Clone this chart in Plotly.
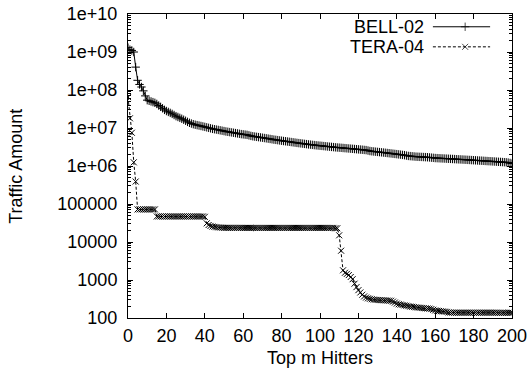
import plotly.graph_objects as go

# ---------------- data ----------------
m_hitters = list(range(0, 201))

bell_02 = [
    1.3e9, 1.15e9, 1.1e9, 1.0e9, 4.0e8, 1.8e8, 1.4e8, 1.2e8, 9.5e7, 7.0e7,
    5.4e7, 5.2e7, 5.0e7, 4.8e7, 4.6e7, 4.3e7, 3.9e7, 3.6e7, 3.3e7, 3.0e7,
    2.8e7, 2.65e7, 2.5e7, 2.35e7, 2.2e7, 2.05e7, 1.95e7, 1.85e7, 1.75e7, 1.65e7,
    1.55e7, 1.45e7, 1.37e7, 1.31e7, 1.26e7, 1.22e7, 1.19e7, 1.16e7, 1.13e7, 1.10e7,
    1.07e7, 1.04e7, 1.01e7, 9.8e6, 9.5e6, 9.3e6, 9.1e6, 8.9e6, 8.7e6, 8.5e6,
    8.3e6, 8.1e6, 7.95e6, 7.8e6, 7.65e6, 7.5e6, 7.35e6, 7.2e6, 7.05e6, 6.9e6,
    6.8e6, 6.7e6, 6.6e6, 6.4e6, 6.2e6, 6.05e6, 5.95e6, 5.85e6, 5.75e6, 5.65e6,
    5.55e6, 5.45e6, 5.35e6, 5.25e6, 5.15e6, 5.05e6, 4.95e6, 4.87e6, 4.79e6, 4.71e6,
    4.63e6, 4.55e6, 4.48e6, 4.41e6, 4.34e6, 4.27e6, 4.2e6, 4.13e6, 4.06e6, 4.0e6,
    3.94e6, 3.88e6, 3.82e6, 3.76e6, 3.7e6, 3.65e6, 3.6e6, 3.55e6, 3.5e6, 3.46e6,
    3.42e6, 3.38e6, 3.34e6, 3.3e6, 3.26e6, 3.22e6, 3.18e6, 3.14e6, 3.1e6, 3.07e6,
    3.04e6, 3.01e6, 2.98e6, 2.95e6, 2.92e6, 2.89e6, 2.86e6, 2.83e6, 2.8e6, 2.77e6,
    2.74e6, 2.71e6, 2.68e6, 2.65e6, 2.62e6, 2.55e6, 2.48e6, 2.44e6, 2.41e6, 2.38e6,
    2.35e6, 2.32e6, 2.29e6, 2.26e6, 2.23e6, 2.2e6, 2.17e6, 2.14e6, 2.11e6, 2.08e6,
    2.05e6, 2.02e6, 1.99e6, 1.96e6, 1.93e6, 1.88e6, 1.84e6, 1.82e6, 1.8e6, 1.78e6,
    1.76e6, 1.75e6, 1.74e6, 1.73e6, 1.72e6, 1.71e6, 1.70e6, 1.68e6, 1.66e6, 1.64e6,
    1.62e6, 1.61e6, 1.60e6, 1.59e6, 1.58e6, 1.57e6, 1.56e6, 1.55e6, 1.54e6, 1.53e6,
    1.52e6, 1.51e6, 1.50e6, 1.49e6, 1.48e6, 1.47e6, 1.46e6, 1.45e6, 1.44e6, 1.43e6,
    1.42e6, 1.41e6, 1.40e6, 1.39e6, 1.38e6, 1.37e6, 1.36e6, 1.35e6, 1.34e6, 1.33e6,
    1.32e6, 1.31e6, 1.30e6, 1.29e6, 1.28e6, 1.27e6, 1.26e6, 1.25e6, 1.23e6, 1.20e6,
    1.16e6,
]

tera_04 = [
    6.5e7, 1.8e7, 7.5e6, 1.25e6, 3.9e5, 7.2e4, 7.2e4, 7.2e4, 7.2e4, 7.2e4,
    7.2e4, 7.2e4, 7.2e4, 7.2e4, 7.2e4, 4.7e4, 4.7e4, 4.7e4, 4.7e4, 4.7e4,
    4.7e4, 4.7e4, 4.7e4, 4.7e4, 4.7e4, 4.7e4, 4.7e4, 4.7e4, 4.7e4, 4.7e4,
    4.7e4, 4.7e4, 4.7e4, 4.7e4, 4.7e4, 4.7e4, 4.7e4, 4.7e4, 4.7e4, 4.7e4,
    4.6e4, 3.1e4, 2.8e4, 2.65e4, 2.55e4, 2.5e4, 2.45e4, 2.42e4, 2.4e4, 2.38e4,
    2.36e4, 2.36e4, 2.36e4, 2.36e4, 2.36e4, 2.36e4, 2.36e4, 2.36e4, 2.36e4, 2.36e4,
    2.35e4, 2.35e4, 2.35e4, 2.35e4, 2.35e4, 2.35e4, 2.35e4, 2.35e4, 2.35e4, 2.35e4,
    2.35e4, 2.35e4, 2.35e4, 2.35e4, 2.35e4, 2.35e4, 2.35e4, 2.35e4, 2.35e4, 2.35e4,
    2.35e4, 2.35e4, 2.35e4, 2.35e4, 2.35e4, 2.35e4, 2.35e4, 2.35e4, 2.35e4, 2.35e4,
    2.35e4, 2.35e4, 2.35e4, 2.35e4, 2.35e4, 2.35e4, 2.35e4, 2.35e4, 2.35e4, 2.35e4,
    2.35e4, 2.35e4, 2.35e4, 2.35e4, 2.35e4, 2.35e4, 2.35e4, 2.35e4, 2.3e4, 2.3e4,
    1.5e4, 5.9e3, 1.8e3, 1.55e3, 1.45e3, 1.35e3, 1.2e3, 1.05e3, 800, 650,
    540, 470, 410, 370, 345, 330, 320, 312, 305, 300,
    298, 296, 294, 292, 290, 288, 286, 284, 270, 255,
    240, 230, 225, 220, 215, 210, 205, 200, 197, 194,
    191, 188, 186, 184, 182, 180, 178, 176, 172, 165,
    158, 155, 153, 151, 149, 147, 145, 140, 139, 138,
    138, 138, 138, 138, 138, 138, 138, 138, 138, 138,
    138, 138, 138, 138, 138, 138, 138, 138, 138, 138,
    138, 138, 138, 137, 137, 137, 137, 137, 137, 137,
    137,
]

series_names = ["BELL-02", "TERA-04"]
y_tick_values = [1e2, 1e3, 1e4, 1e5, 1e6, 1e7, 1e8, 1e9, 1e10]
y_tick_labels = ["100", "1000", "10000", "100000", "1e+06", "1e+07",
                 "1e+08", "1e+09", "1e+10"]
x_tick_values = [0, 20, 40, 60, 80, 100, 120, 140, 160, 180, 200]

# ---------------- styling ----------------
FONT = "Liberation Sans, Arial, Helvetica, sans-serif"
FS = 18
minor_vals = [k * 10 ** d for d in range(2, 10) for k in range(2, 10)]

fig = go.Figure()

fig.add_trace(go.Scatter(
    x=m_hitters, y=bell_02, name=series_names[0], mode="lines+markers",
    line=dict(color="black", width=1),
    marker=dict(symbol="cross-thin", size=6, line=dict(color="black", width=1)),
    showlegend=False,
))
fig.add_trace(go.Scatter(
    x=m_hitters, y=tera_04, name=series_names[1], mode="lines+markers",
    line=dict(color="black", width=1, dash="3px,2px"),
    marker=dict(symbol="x-thin", size=6, line=dict(color="black", width=1)),
    showlegend=False,
))

# legend samples (gnuplot style: text, then line sample with marker), in plot-fraction coords
leg_x = [0.794, 0.878, 0.943]
leg_rows = [0.958, 0.892]
leg_symbols = ["cross-thin", "x-thin"]
leg_dash = ["solid", "3px,2px"]
for i, nm in enumerate(series_names):
    fig.add_trace(go.Scatter(
        x=leg_x, y=[leg_rows[i]] * 3, xaxis="x2", yaxis="y2",
        mode="lines+markers", showlegend=False, hoverinfo="skip",
        line=dict(color="black", width=1, dash=leg_dash[i]),
        marker=dict(symbol=leg_symbols[i], size=[0, 6, 0],
                    line=dict(color="black", width=1)),
    ))
    fig.add_annotation(
        x=0.776, y=leg_rows[i], xref="paper", yref="paper",
        text=nm, showarrow=False, xanchor="right", yanchor="middle",
        font=dict(family=FONT, size=FS, color="black"),
    )

# axis titles
fig.add_annotation(x=0.5, y=-0.13, xref="paper", yref="paper",
                   text="Top m Hitters", showarrow=False,
                   xanchor="center", yanchor="middle",
                   font=dict(family=FONT, size=FS, color="black"))
fig.add_annotation(x=-0.292, y=0.5, xref="paper", yref="paper",
                   text="Traffic Amount", showarrow=False, textangle=-90,
                   xanchor="center", yanchor="middle",
                   font=dict(family=FONT, size=FS, color="black"))

fig.update_layout(
    width=532, height=379,
    margin=dict(l=128, r=20, t=14, b=61, autoexpand=False),
    paper_bgcolor="white", plot_bgcolor="white",
    font=dict(family=FONT, size=FS, color="black"),
    xaxis=dict(
        range=[0, 200], tickmode="array", tickvals=x_tick_values,
        ticks="inside", ticklen=5, tickwidth=1, tickcolor="black",
        showline=True, linecolor="black", linewidth=1, mirror="ticks",
        showgrid=False, zeroline=False, ticklabelstandoff=1,
        automargin=False,
    ),
    yaxis=dict(
        type="log", range=[2, 10], tickmode="array",
        tickvals=y_tick_values, ticktext=y_tick_labels,
        ticks="inside", ticklen=5, tickwidth=1, tickcolor="black",
        showline=True, linecolor="black", linewidth=1, mirror="ticks",
        showgrid=False, zeroline=False, ticklabelstandoff=6,
        automargin=False,
        minor=dict(tickmode="array", tickvals=minor_vals, ticks="inside",
                   ticklen=3, tickcolor="black", showgrid=False),
    ),
    xaxis2=dict(overlaying="x", range=[0, 1], visible=False),
    yaxis2=dict(overlaying="y", range=[0, 1], visible=False),
)

fig.write_html("out.html",
               config={"displayModeBar": False},
               post_script="document.body.style.margin='0px';document.body.style.overflow='hidden';")
